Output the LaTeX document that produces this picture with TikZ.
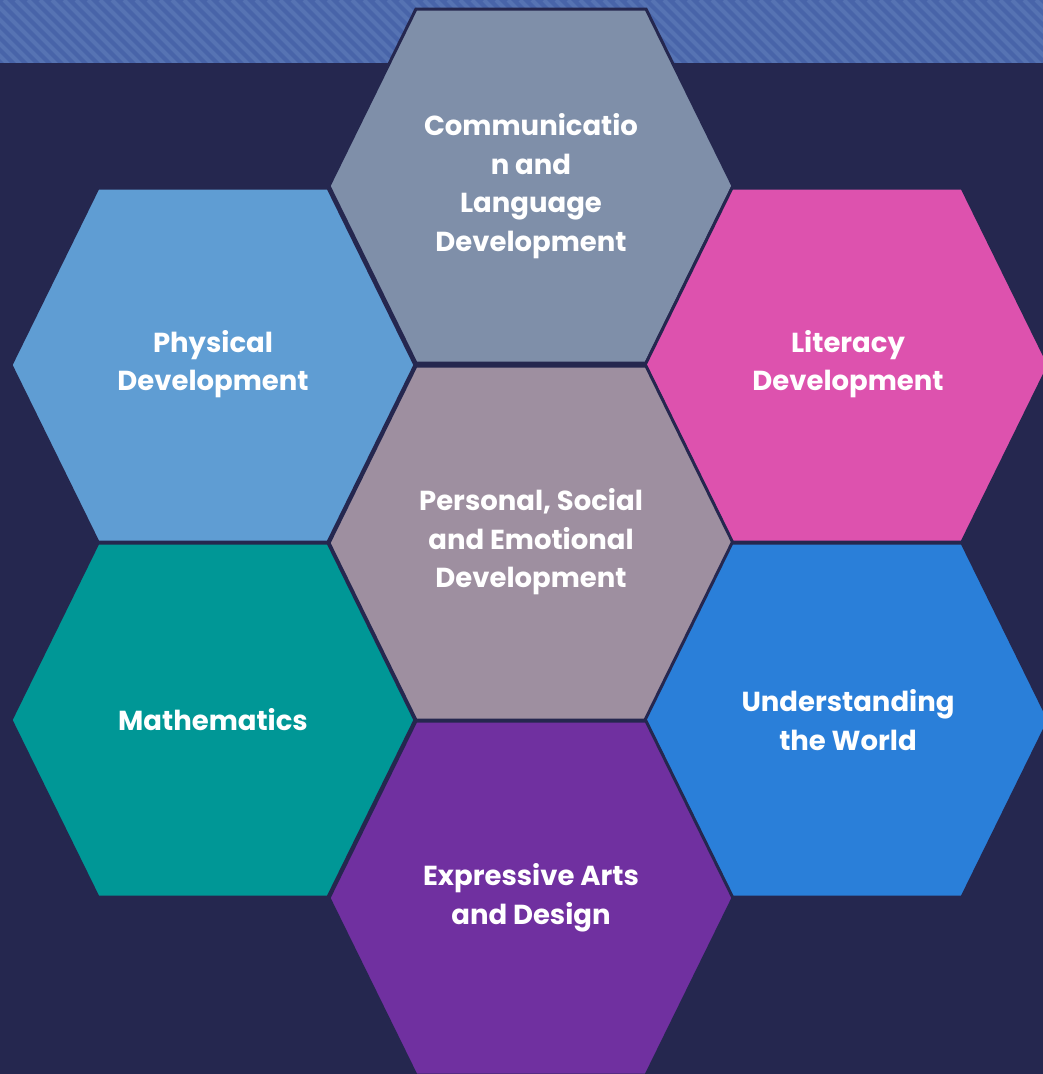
\documentclass[tikz,border=0pt]{standalone}
\usepackage{fontspec}
\setmainfont{Poppins}
\usepackage{tikz}

\definecolor{bgnavy}{HTML}{25274F}
\definecolor{banddark}{HTML}{4864A9}
\definecolor{bandlight}{HTML}{5673B3}
\definecolor{commgrey}{HTML}{7F8FA9}
\definecolor{physblue}{HTML}{5F9DD3}
\definecolor{litpink}{HTML}{DD52AE}
\definecolor{psemauve}{HTML}{9E8FA0}
\definecolor{mathteal}{HTML}{009796}
\definecolor{worldblue}{HTML}{2A7FD9}
\definecolor{artpurple}{HTML}{7030A0}

\tikzset{
  hexcell/.style={draw=bgnavy, line width=3pt, line join=miter},
  hexlabel/.style={text=white, font=\bfseries\fontsize{27.5}{38.5}\selectfont, align=center, inner sep=0pt},
}

\begin{document}
\begin{tikzpicture}[x=1pt, y=-1pt]

\useasboundingbox (0,0) rectangle (1043,1074);
\clip (0,0) rectangle (1043,1074);

% background and striped band
\fill[bgnavy] (0,0) rectangle (1043,1074);
\fill[banddark] (0,0) rectangle (1043,63);
\begin{scope}
  \clip (0,0) rectangle (1043,62);
  \foreach \s in {-80,-68,...,1050}
    \draw[bandlight, line width=4.2pt] (\s,0) -- (\s+70,70);
\end{scope}

% the seven cells
\foreach \cx/\cy/\col in {531/186/commgrey, 213/365/physblue, 847/365/litpink,
                          531/543/psemauve, 213/720/mathteal, 847/720/worldblue,
                          531/898/artpurple}
  \draw[hexcell, fill=\col, shift={(\cx,\cy)}]
    (-202,0) -- (-115,-177) -- (115,-177) -- (202,0) -- (115,177) -- (-115,177) -- cycle;

\node[hexlabel] (comm) at (531,186) {Communicatio\\n and\\Language\\Development};
\node[hexlabel] (phys) at (213,364) {Physical\\Development};
\node[hexlabel] (lit) at (848,364) {Literacy\\Development};
\node[hexlabel] (pse) at (531,542) {Personal, Social\\and Emotional\\Development};
\node[hexlabel] (maths) at (213,720) {Mathematics};
\node[hexlabel] (world) at (848,720) {Understanding\\the World};
\node[hexlabel] (arts) at (531,898) {Expressive Arts\\and Design};

\end{tikzpicture}
\end{document}
